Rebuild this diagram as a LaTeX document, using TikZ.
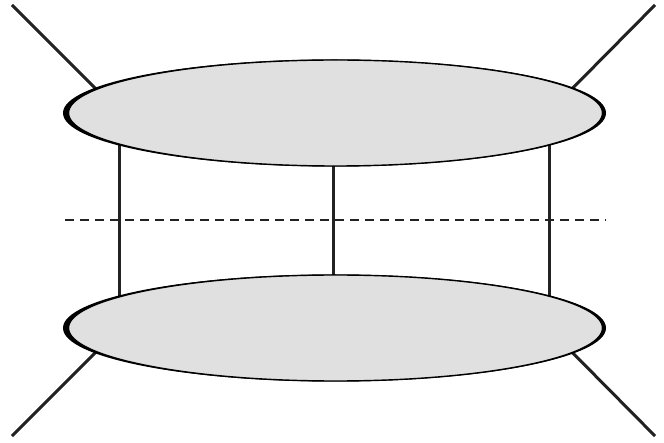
\documentclass[tikz,border=0pt]{standalone}
\usetikzlibrary{shapes.geometric}
\definecolor{disk}{HTML}{E0E0E0}
\definecolor{ink}{HTML}{222222}
\tikzset{
  leg/.style={draw=ink, line width=3pt},
  rung/.style={draw=ink, line width=3pt},
  cut/.style={draw=ink, line width=1.8pt, dash pattern=on 9pt off 6pt},
  rim/.style={ellipse, fill=black, draw=none, minimum width=543pt, minimum height=107pt, inner sep=0pt},
  disc/.style={ellipse, fill=disk, draw=black, line width=1.4pt, minimum width=534pt, minimum height=106pt, inner sep=0pt}
}
\begin{document}
\begin{tikzpicture}[x=1pt,y=-1pt]
\useasboundingbox (0,0) rectangle (664,443);
% outer free ends
\coordinate (tl) at (12,5);
\coordinate (tr) at (655,5);
\coordinate (bl) at (12,436);
\coordinate (br) at (655,436);
% legs (drawn first, covered by discs)
\draw[leg] (tl) -- (110,103);
\draw[leg] (tr) -- (558,103);
\draw[leg] (bl) -- (110,338);
\draw[leg] (br) -- (558,338);
% rungs
\coordinate (r1t) at (119,130); \coordinate (r1b) at (119,310);
\coordinate (r2t) at (333,130); \coordinate (r2b) at (333,310);
\coordinate (r3t) at (549,130); \coordinate (r3b) at (549,310);
\draw[rung] (r1t) -- (r1b);
\draw[rung] (r2t) -- (r2b);
\draw[rung] (r3t) -- (r3b);
% discs
\node[rim] (toprim) at (334.5,113) {};
\node[disc] (top) at (335.5,113) {};
\node[rim] (botrim) at (334.5,328) {};
\node[disc] (bot) at (335.5,328) {};
% cut line
\coordinate (c1) at (65,220);
\coordinate (c2) at (606,220);
\draw[cut] (c1) -- (c2);
\end{tikzpicture}
\end{document}
